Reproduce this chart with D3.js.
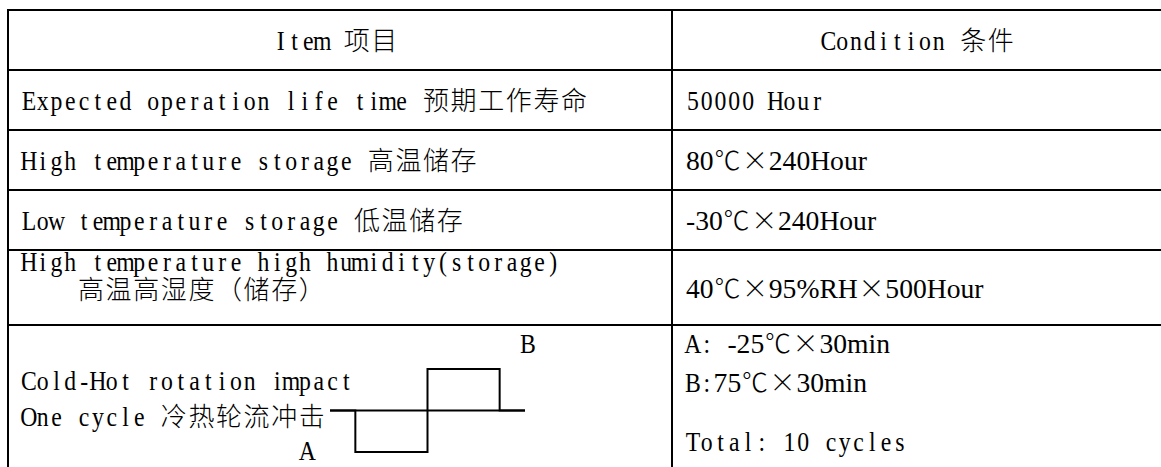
<!DOCTYPE html>
<html>
<head>
<meta charset="utf-8">
<script src="https://cdn.jsdelivr.net/npm/d3@7"></script>
<style>
  body { margin: 0; background: #fff; }
</style>
</head>
<body>
<script>
// table content
var headers = ["Item 项目", "Condition 条件"];

var items = [
    ["Expected operation life time 预期工作寿命"],
    ["High temperature storage 高温储存"],
    ["Low temperature storage 低温储存"],
    ["High temperature high humidity(storage)", "    高温高湿度（储存）"],
    ["Cold-Hot rotation impact", "One cycle 冷热轮流冲击"]
];

var conditions = [
    ["50000 Hour"],
    ["80℃×240Hour"],
    ["-30℃×240Hour"],
    ["40℃×95%RH×500Hour"],
    ["A: -25℃×30min", "B:75℃×30min", "", "Total: 10 cycles"]
];

// one cold-hot cycle: phase start (fraction of the cycle) and level (-1 = A cold, 1 = B hot)
var cycleTimes = [0, 0.13, 0.5, 0.87, 1];
var cycleLevels = [0, -1, 1, 0, 0];
var cycleLabels = ["B", "A"];

//layout
var W = 1161, H = 467;
var colX = [8, 672, 1164];          //left border, divider, right border
var top0 = 10;
var rowH = [60, 60, 60, 60, 75, 160];
var rowEdges = [top0].concat(Array.from(d3.cumsum(rowH), function(d){ return top0 + d; }));
var padL = 22, padR = 686;
var leftOffsets = [[40], [40], [40], [21, 49], [65, 101]];
var rightOffsets = [[40], [40], [40], [48], [28, 67, 98, 126]];

var fs = 27.6, u = fs / 2, sx = 0.86, cjkFs = 26;
var SERIF = "'Liberation Serif', 'DejaVu Serif', serif";
var CJK = "'Noto Sans CJK SC', 'Noto Sans CJK JP', sans-serif";

var svg = d3.select("body").append("svg")
    .attr("width", W)
    .attr("height", H)
    .style("background", "#fff");

//hidden text used to measure glyph advances
var measurer = svg.append("text")
    .attr("visibility", "hidden")
    .style("white-space", "pre");
var cache = {};
function adv(ch, family, size){
    var k = family + "|" + size + "|" + ch;
    if (cache[k] == null){
        measurer.style("font-family", family).style("font-size", size + "px").text(ch);
        cache[k] = measurer.node().getComputedTextLength();
    }
    return cache[k];
}

function isWide(ch){
    return ch.charCodeAt(0) >= 0x2000 || ch === "×";
}

//split a line into cells: monospace latin (half em), full width CJK, or proportional serif
function layoutLine(str){
    var serif = str.indexOf("℃") >= 0;
    var m = serif ? str.match(/^[A-Z]:\s?/) : null;
    var prefix = m ? m[0].length : 0;
    var x = 0, cells = [];
    Array.from(str).forEach(function(ch, i){
        var kind, w;
        if (isWide(ch)) { kind = "wide"; w = 2 * u; }
        else if (serif && i >= prefix) { kind = "serif"; w = adv(ch, SERIF, fs); }
        else { kind = "mono"; w = u; }
        cells.push({ch: ch, kind: kind, x: x, w: w});
        x += w;
    });
    return {cells: cells, width: x};
}

//group neighbouring cells of the same kind into runs, one text element per run
function drawLine(str, x0, y, centered){
    if (!str) return;
    var L = layoutLine(str);
    if (centered) x0 -= L.width / 2;
    var runs = [];
    L.cells.forEach(function(c){
        var last = runs[runs.length - 1];
        if (last && last.kind === c.kind) last.cells.push(c);
        else runs.push({kind: c.kind, cells: [c]});
    });
    runs.forEach(function(r){
        var cs = r.cells;
        if (!cs.some(function(c){ return c.ch !== " "; })) return;
        var t = svg.append("text")
            .attr("class", "cell-text")
            .style("white-space", "pre")
            .attr("y", 0)
            .style("fill", "#000");
        if (r.kind === "mono"){
            //latin glyphs squeezed and centred in half-em cells
            t.attr("transform", "translate(" + x0 + "," + y + ") scale(" + sx + ",1)")
                .style("font-family", SERIF)
                .style("font-size", fs + "px")
                .attr("x", cs.map(function(c){
                    return ((c.x + (u - adv(c.ch, SERIF, fs) * sx) / 2) / sx).toFixed(2);
                }).join(" "));
        } else if (r.kind === "serif"){
            t.attr("transform", "translate(" + x0 + "," + y + ")")
                .style("font-family", SERIF)
                .style("font-size", fs + "px")
                .attr("x", cs.map(function(c){ return c.x.toFixed(2); }).join(" "));
        } else {
            t.attr("transform", "translate(" + x0 + "," + y + ")")
                .style("font-family", CJK)
                .style("font-size", cjkFs + "px")
                .style("font-weight", 300)
                .attr("x", cs.map(function(c){
                    return (c.x + (c.w - adv(c.ch, CJK, cjkFs)) / 2).toFixed(2);
                }).join(" "));
        }
        t.text(cs.map(function(c){ return c.ch; }).join(""));
    });
}

//grid lines
svg.selectAll(".hline")
    .data(rowEdges.slice(0, 6))
    .enter()
    .append("line")
    .attr("class", "hline")
    .attr("x1", colX[0] - 1)
    .attr("x2", colX[2] + 1)
    .attr("y1", function(d){ return d; })
    .attr("y2", function(d){ return d; })
    .style("stroke", "#000")
    .style("stroke-width", 2);

svg.selectAll(".vline")
    .data(colX)
    .enter()
    .append("line")
    .attr("class", "vline")
    .attr("x1", function(d){ return d; })
    .attr("x2", function(d){ return d; })
    .attr("y1", top0 - 1)
    .attr("y2", rowEdges[6])
    .style("stroke", "#000")
    .style("stroke-width", 2);

//header
drawLine(headers[0], (colX[0] + colX[1]) / 2 - 4, rowEdges[0] + 40, true);
drawLine(headers[1], (colX[1] + colX[2]) / 2, rowEdges[0] + 40, true);

//body rows
items.forEach(function(lines, i){
    lines.forEach(function(s, j){
        drawLine(s, padL, rowEdges[i + 1] + leftOffsets[i][j], false);
    });
});
conditions.forEach(function(lines, i){
    lines.forEach(function(s, j){
        drawLine(s, padR, rowEdges[i + 1] + rightOffsets[i][j], false);
    });
});

//cold-hot cycle diagram
var cycTop = rowEdges[5];
var xw = d3.scaleLinear().domain([0, 1]).range([330, 525]);
var yw = d3.scaleLinear().domain([-1, 1]).range([cycTop + 127, cycTop + 44]);

svg.append("line")
    .attr("x1", xw(0)).attr("x2", xw(1))
    .attr("y1", yw(0)).attr("y2", yw(0))
    .style("stroke", "#000")
    .style("stroke-width", 2);

var wave = d3.line()
    .x(function(d){ return xw(d[0]); })
    .y(function(d){ return yw(d[1]); })
    .curve(d3.curveStepAfter);

svg.append("path")
    .datum(d3.zip(cycleTimes, cycleLevels))
    .attr("d", wave)
    .style("fill", "none")
    .style("stroke", "#000")
    .style("stroke-width", 2);

drawLine(cycleLabels[0], xw(1) + 3, cycTop + 28, true);
drawLine(cycleLabels[1], xw(cycleTimes[1]) - 48, cycTop + 135, true);
</script>
</body>
</html>
